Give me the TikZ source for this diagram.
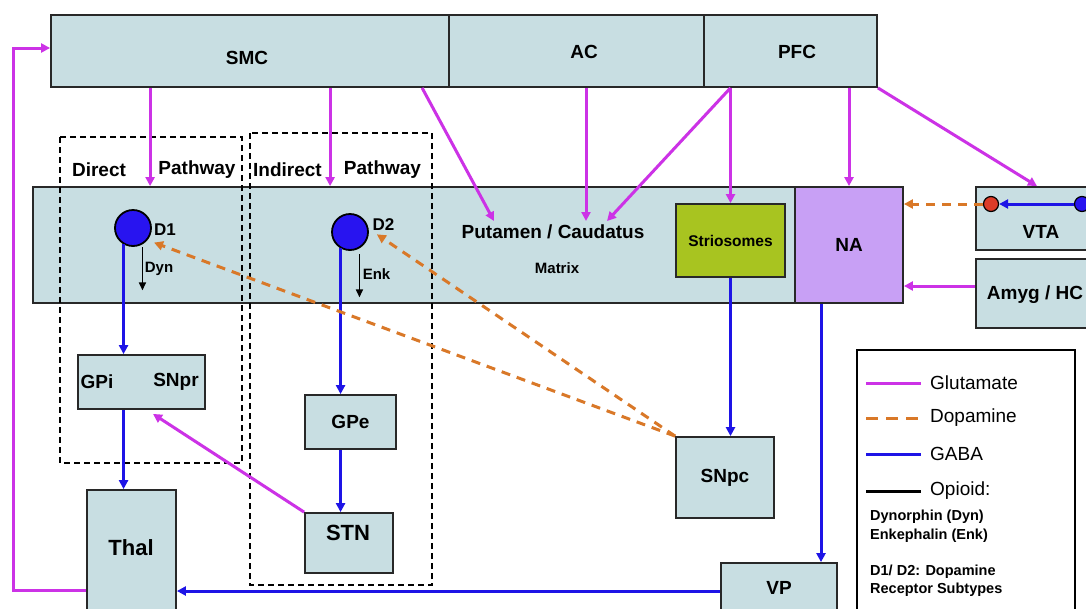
\documentclass[tikz,border=0pt]{standalone}
\usepackage{fontspec}
\setmainfont{Liberation Sans}
\usetikzlibrary{arrows.meta}
\definecolor{boxfill}{RGB}{200,222,226}
\definecolor{boxline}{RGB}{40,40,40}
\definecolor{glucol}{RGB}{204,50,230}
\definecolor{gabacol}{RGB}{30,20,230}
\definecolor{dopacol}{RGB}{217,120,40}
\definecolor{striocol}{RGB}{168,196,32}
\definecolor{nacol}{RGB}{200,160,245}
\definecolor{circblue}{RGB}{40,20,240}
\definecolor{circred}{RGB}{220,60,40}
\newcommand\myfs[1]{\fontsize{#1}{#1}\selectfont}
\begin{document}
\begin{tikzpicture}[x=1pt,y=-1pt,
  box/.style={draw=boxline, line width=1.8pt, fill=boxfill, inner sep=0pt, font=\myfs{19}\bfseries},
  lbl/.style={inner sep=0pt, font=\myfs{19}\bfseries},
  slbl/.style={inner sep=0pt, font=\myfs{15}\bfseries},
  tip/.style={-{Triangle[length=9pt,width=9pt]}},
  glu/.style={draw=glucol, line width=3pt, tip},
  gaba/.style={draw=gabacol, line width=3pt, tip},
  dopa/.style={draw=dopacol, line width=3pt, dash pattern=on 9pt off 7pt, tip},
  opi/.style={draw=black, line width=1.6pt, -{Triangle[length=8pt,width=7pt]}},
  pathbox/.style={draw=black, line width=1.5pt, dash pattern=on 6pt off 4pt},
  recept/.style={circle, draw=black, line width=1.8pt, fill=circblue, minimum size=36pt, inner sep=0pt},
  lgt/.style={inner sep=0pt, anchor=west, font=\myfs{19}},
  lgs/.style={inner sep=0pt, anchor=west, font=\myfs{14.5}\bfseries},
]
\useasboundingbox (0,0) rectangle (1086,608);
\fill[white] (0,0) rectangle (1086,608);

% cortex bar
\node[box, minimum width=398pt, minimum height=72pt] (smc) at (250,51) {};
\node[box, minimum width=255pt, minimum height=72pt] (ac) at (576.5,51) {};
\node[box, minimum width=173pt, minimum height=72pt] (pfc) at (790.5,51) {};
\node[lbl] (smct) at (247,58) {SMC};
\node[lbl] (act) at (584,52) {AC};
\node[lbl] (pfct) at (797,52) {PFC};

% striatum
\node[box, minimum width=762pt, minimum height=116pt] (str) at (414,245) {};
\node[box, fill=nacol, minimum width=108pt, minimum height=116pt] (na) at (849,245) {NA};
\node[box, fill=striocol, minimum width=109pt, minimum height=73pt, font=\myfs{15.5}\bfseries] (strio) at (730.5,240.5) {Striosomes};
\node[lbl] (putt) at (553,232) {Putamen / Caudatus};
\node[slbl] (matt) at (557,268) {Matrix};

% VTA, Amyg
\node[box, minimum width=134pt, minimum height=63pt] (vta) at (1043,218.5) {};
\node[lbl] (vtat) at (1041,232) {VTA};
\node[box, minimum width=134pt, minimum height=69pt] (amyg) at (1043,293.5) {};
\node[lbl] (amygt) at (1035,295) {Amyg / HC};

% lower boxes
\node[box, minimum width=127pt, minimum height=54pt] (gpi) at (141.5,382) {};
\node[lbl] (gpit) at (97,382) {GPi};
\node[lbl] (snprt) at (176,382) {SNpr};
\node[box, minimum width=89pt, minimum height=130pt] (thal) at (131.5,555) {};
\node[lbl, font=\myfs{22}\bfseries] (thalt) at (131,548) {Thal};
\node[box, minimum width=91pt, minimum height=54pt] (gpe) at (350.5,422) {GPe};
\node[box, minimum width=88pt, minimum height=60pt] (stn) at (349,543) {};
\node[lbl, font=\myfs{22}\bfseries] (stnt) at (348,533) {STN};
\node[box, minimum width=98pt, minimum height=81pt] (snpc) at (725,477.5) {SNpc};
\node[box, minimum width=116pt, minimum height=62pt] (vp) at (779,594) {};
\node[lbl] (vpt) at (779,588) {VP};

% pathway boxes
\draw[pathbox] (60,137) rectangle (242,463);
\draw[pathbox] (250,133) rectangle (432,585);
\node[lbl] (dirt) at (99,170) {Direct};
\node[lbl] (pw1) at (197,170) {Pathway};
\node[lbl] (indt) at (287.5,170) {Indirect};
\node[lbl] (pw2) at (382.5,170) {Pathway};

% receptors
\node[recept] (d1) at (133,228) {};
\node[recept] (d2) at (350,232) {};
\node[lbl, font=\myfs{17}\bfseries] (d1t) at (165,230) {D1};
\node[lbl, font=\myfs{17}\bfseries] (d2t) at (383.5,225) {D2};
\node[circle, draw=black, line width=1.2pt, fill=circred, minimum size=15pt, inner sep=0pt] (vr) at (991,204) {};
\node[circle, draw=black, line width=1.2pt, fill=circblue, minimum size=15pt, inner sep=0pt] (vb) at (1082,204) {};

% glutamate
\draw[glu] ([xshift=100pt]smc.south west) -- ([xshift=118pt]str.north west);
\draw[glu] ([xshift=280pt]smc.south west) -- ([xshift=298pt]str.north west);
\coordinate (pcA) at (494,221);
\coordinate (pcB) at (586,221);
\coordinate (pcC) at (607,221);
\draw[glu] ([xshift=372pt]smc.south west) -- (pcA);
\draw[glu] ([xshift=9.5pt]ac.south) -- (pcB);
\draw[glu] ([xshift=-60pt]pfc.south) -- (pcC);
\draw[glu] ([xshift=-60pt]pfc.south) -- (strio.north);
\draw[glu] ([xshift=58.5pt]pfc.south) -- (na.north);
\draw[glu] (pfc.south east) -- ([xshift=-6pt]vta.north);
\draw[glu] ([yshift=7.5pt]amyg.west) -- ([yshift=7.5pt]amyg.west -| na.east);
\draw[glu] (stn.north west) -- ([xshift=11.5pt,yshift=-4pt]gpi.south);
\draw[glu] ([yshift=-35pt]thal.west) -- ++(-73,0) |- ([yshift=3pt]smc.west);

% GABA
\draw[gaba] (d1.240) -- (d1.240 |- gpi.north);
\draw[gaba] (d1.240 |- gpi.south) -- (d1.240 |- thal.north);
\draw[gaba] (d2.240) -- (d2.240 |- gpe.north);
\draw[gaba] (d2.240 |- gpe.south) -- (d2.240 |- stn.north);
\draw[gaba] (strio.south) -- (strio.south |- snpc.north);
\draw[gaba] ([xshift=-28pt]na.south) -- ([xshift=-28pt]na.south |- vp.north);
\draw[gaba] ([yshift=3pt]vp.west) -- ([yshift=3pt]vp.west -| thal.east);
\draw[gaba] (vb.west) -- (vr.east);

% dopamine
\draw[dopa, shorten >=7pt] (snpc.north west) -- (d1.-40);
\draw[dopa, shorten >=10pt] (snpc.north west) -- (d2.10);
\draw[dopa] (vr.west) -- (vr.west -| na.east);

% opioid
\draw[opi] ([yshift=-3pt]d1.300) -- ++(0,43);
\draw[opi] ([yshift=-6pt]d2.300) -- ++(0,43);
\node[slbl] (dynt) at (159,269) {Dyn};
\node[slbl] (enkt) at (376.5,274) {Enk};

% legend
\node[draw=black, line width=1.6pt, fill=white, minimum width=218pt, minimum height=270pt, inner sep=0pt] (leg) at (966,485) {};
\node[lgt] (lg1) at (930,383) {Glutamate};
\node[lgt] (lg2) at (930,418) {Dopamine};
\node[lgt] (lg3) at (930,454) {GABA};
\node[lgt] (lg4) at (930,491) {Opioid:};
\draw[glucol, line width=3pt] ([xshift=-64pt]lg1.west) -- ([xshift=-9pt]lg1.west);
\draw[dopacol, line width=3pt, dash pattern=on 12pt off 8pt] ([xshift=-64pt]lg2.west) -- ([xshift=-9pt]lg2.west);
\draw[gabacol, line width=3pt] ([xshift=-64pt]lg3.west) -- ([xshift=-9pt]lg3.west);
\draw[black, line width=3pt] ([xshift=-64pt]lg4.west) -- ([xshift=-9pt]lg4.west);
\node[lgs] (lg5) at (870,517) {Dynorphin (Dyn)};
\node[lgs] (lg6) at (870,536) {Enkephalin (Enk)};
\node[lgs] (lg7) at (870,572) {D1/ D2: Dopamine};
\node[lgs] (lg8) at (870,590) {Receptor Subtypes};
\end{tikzpicture}
\end{document}
